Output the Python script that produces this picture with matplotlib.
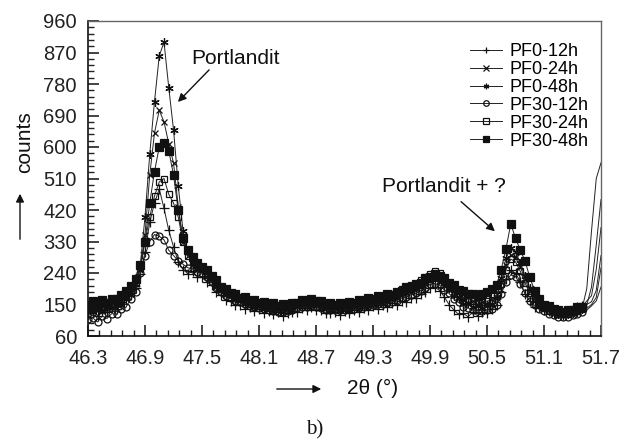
import numpy as np
import matplotlib
matplotlib.use('Agg')
import matplotlib.pyplot as plt
from matplotlib.ticker import FixedLocator

plt.rcParams['font.family'] = 'Liberation Sans'

# 2theta scan grid (0.05 deg step)
two_theta = np.round(np.arange(46.30, 51.7001, 0.05), 2)

pf0_12h = [125, 133, 118, 136, 128, 142, 138, 156, 162, 182,
           198, 236, 300, 385, 440, 480, 425, 362, 315, 272,
           250, 238, 245, 230, 228, 215, 206, 185, 178, 162,
           160, 148, 150, 138, 143, 132, 137, 126, 131, 122,
           128, 118, 126, 130, 128, 140, 133, 143, 135, 134,
           126, 126, 130, 120, 131, 125, 134, 128, 140, 133,
           145, 136, 150, 142, 155, 148, 160, 158, 168, 170,
           180, 185, 196, 200, 190, 172, 150, 135, 122, 125,
           115, 128, 118, 128, 125, 136, 148, 185, 222, 248,
           240, 215, 180, 160, 142, 142, 134, 132, 125, 125,
           120, 130, 128, 142, 145, 160, 175, 250, 370]

pf0_24h = [130, 140, 135, 146, 138, 150, 152, 163, 168, 190,
           210, 250, 350, 520, 640, 705, 672, 610, 555, 430,
           330, 290, 275, 272, 258, 252, 232, 218, 200, 195,
           182, 178, 168, 167, 156, 158, 148, 152, 141, 145,
           135, 142, 136, 146, 145, 155, 150, 160, 148, 152,
           140, 145, 137, 144, 140, 148, 142, 152, 148, 158,
           152, 165, 158, 168, 165, 178, 176, 188, 186, 200,
           200, 216, 218, 228, 214, 212, 192, 188, 168, 167,
           155, 160, 150, 157, 152, 165, 170, 215, 262, 292,
           285, 258, 222, 190, 170, 158, 145, 140, 132, 132,
           126, 130, 130, 138, 140, 150, 158, 190, 290]

pf0_48h = [138, 128, 140, 132, 142, 140, 150, 152, 172, 178,
           208, 262, 400, 580, 730, 860, 900, 770, 650, 490,
           360, 300, 270, 252, 248, 228, 222, 200, 194, 176,
           176, 162, 165, 152, 152, 143, 147, 137, 142, 133,
           136, 129, 137, 135, 146, 142, 152, 145, 150, 139,
           141, 133, 140, 132, 141, 135, 145, 140, 150, 147,
           155, 152, 160, 159, 168, 169, 182, 182, 192, 195,
           208, 212, 226, 225, 222, 202, 196, 175, 170, 152,
           153, 143, 148, 140, 150, 152, 172, 225, 282, 312,
           300, 270, 232, 198, 172, 152, 142, 133, 128, 123,
           122, 122, 126, 129, 136, 139, 150, 170, 255]

pf30_12h = [108, 112, 100, 117, 110, 124, 122, 138, 142, 166,
            185, 240, 290, 330, 350, 345, 335, 305, 290, 275,
            265, 255, 252, 244, 240, 228, 215, 196, 185, 174,
            168, 161, 156, 151, 147, 142, 140, 138, 135, 132,
            130, 130, 131, 134, 139, 142, 144, 146, 143, 139,
            135, 133, 133, 133, 135, 136, 137, 141, 143, 146,
            148, 151, 152, 154, 158, 161, 168, 171, 178, 182,
            190, 196, 208, 210, 206, 192, 182, 166, 156, 144,
            140, 134, 133, 132, 135, 138, 150, 180, 215, 235,
            230, 208, 182, 160, 148, 136, 132, 123, 120, 114,
            115, 114, 120, 122, 130, 134, 146, 160, 200]

pf30_24h = [140, 136, 145, 140, 148, 146, 156, 160, 176, 188,
            212, 255, 330, 400, 460, 500, 510, 465, 440, 400,
            330, 290, 272, 262, 252, 240, 228, 210, 198, 185,
            182, 172, 170, 160, 160, 152, 155, 148, 150, 146,
            145, 143, 146, 150, 155, 156, 162, 160, 158, 154,
            150, 147, 150, 146, 150, 150, 153, 155, 160, 160,
            165, 165, 172, 172, 180, 185, 195, 198, 205, 210,
            220, 228, 238, 245, 240, 225, 210, 196, 182, 170,
            165, 160, 158, 156, 160, 162, 175, 210, 250, 280,
            272, 245, 212, 182, 165, 150, 140, 132, 128, 124,
            122, 124, 128, 132, 138, 195, 360, 510, 555]

pf30_48h = [150, 160, 152, 163, 155, 166, 165, 178, 188, 202,
            222, 262, 330, 440, 530, 600, 612, 590, 520, 420,
            340, 305, 285, 270, 258, 248, 232, 220, 200, 195,
            183, 180, 168, 171, 160, 163, 153, 158, 150, 153,
            146, 151, 146, 155, 155, 163, 160, 167, 160, 160,
            152, 154, 150, 153, 152, 157, 155, 163, 160, 168,
            166, 173, 172, 179, 178, 187, 190, 199, 200, 209,
            212, 225, 230, 238, 232, 225, 212, 205, 192, 188,
            180, 181, 175, 179, 185, 195, 205, 250, 310, 380,
            340, 305, 275, 228, 190, 165, 150, 145, 136, 135,
            130, 135, 134, 143, 142, 148, 200, 320, 450]

labels = ['PF0-12h', 'PF0-24h', 'PF0-48h', 'PF30-12h', 'PF30-24h', 'PF30-48h']
series = [pf0_12h, pf0_24h, pf0_48h, pf30_12h, pf30_24h, pf30_48h]

x_ticks = [46.3, 46.9, 47.5, 48.1, 48.7, 49.3, 49.9, 50.5, 51.1, 51.7]
y_ticks = [60, 150, 240, 330, 420, 510, 600, 690, 780, 870, 960]

styles = [
    dict(marker='+', ms=6.5, mfc='none'),
    dict(marker='x', ms=5, mfc='none'),
    dict(marker=(6, 2, 0), ms=6, mfc='none'),
    dict(marker='o', ms=5, mfc='none'),
    dict(marker='s', ms=5, mfc='none'),
    dict(marker='s', ms=5.5, mfc='#111'),
]

fig = plt.figure(figsize=(6.28, 4.42), dpi=100)
ax = fig.add_axes([88 / 628, 1 - 336 / 442, 513 / 628, 315 / 442])

for y, lab, st in zip(series, labels, styles):
    ax.plot(two_theta, y, color='#222', lw=0.7, mec='#111', mew=0.9,
            markevery=slice(0, 105), label=lab, **st)

ax.set_xlim(46.3, 51.7)
ax.set_ylim(60, 960)
ax.xaxis.set_major_locator(FixedLocator(x_ticks))
ax.yaxis.set_major_locator(FixedLocator(y_ticks))
ax.xaxis.set_minor_locator(FixedLocator(np.arange(46.3, 51.71, 0.12)))
ax.yaxis.set_minor_locator(FixedLocator(np.arange(60, 961, 18)))
ax.set_xticklabels([f'{v:.1f}' for v in x_ticks])
ax.set_yticklabels([str(v) for v in y_ticks])
ax.tick_params(which='both', direction='in', top=False, right=False,
               labelsize=14.5, colors='#222')
ax.tick_params(which='major', length=8, width=1.2)
ax.tick_params(which='minor', length=4, width=1)
ax.tick_params(axis='y', pad=8)
ax.tick_params(axis='x', pad=9)
for s in ['top', 'right']:
    ax.spines[s].set_color('#666')
    ax.spines[s].set_linewidth(1)
for s in ['left', 'bottom']:
    ax.spines[s].set_color('#111')
    ax.spines[s].set_linewidth(1.2)

leg = ax.legend(loc='upper left', bbox_to_anchor=(0.745, 0.93), frameon=False,
                fontsize=13, handlelength=1.75, handletextpad=0.4,
                labelspacing=0.05, borderpad=0, borderaxespad=0, numpoints=1)
for h in leg.legend_handles:
    h.set_markersize(4)

# annotations
ax.text(47.85, 854, 'Portlandit', fontsize=15, ha='center', va='center', color='#111')
ax.annotate('', xy=(47.226, 723), xytext=(47.595, 826),
            arrowprops=dict(arrowstyle='-|>', color='#111', lw=1, mutation_scale=12))
ax.text(50.05, 486, 'Portlandit + ?', fontsize=15, ha='center', va='center', color='#111')
ax.annotate('', xy=(50.605, 354), xytext=(50.205, 449),
            arrowprops=dict(arrowstyle='-|>', color='#111', lw=1, mutation_scale=12))

# axis labels with arrows
fig.text(0.040, 1 - 142 / 442, 'counts', rotation=90, fontsize=15,
         ha='center', va='center', color='#111')
fig.add_artist(matplotlib.patches.FancyArrowPatch(
    (20 / 628, 1 - 242 / 442), (20 / 628, 1 - 191 / 442), transform=fig.transFigure,
    arrowstyle='-|>', mutation_scale=12, color='#111', lw=1))
fig.text(373 / 628, 1 - 388 / 442, '2θ (°)', fontsize=15, ha='center', va='center', color='#111')
fig.add_artist(matplotlib.patches.FancyArrowPatch(
    (274 / 628, 1 - 389 / 442), (324 / 628, 1 - 389 / 442), transform=fig.transFigure,
    arrowstyle='-|>', mutation_scale=12, color='#111', lw=1))
fig.text(315 / 628, 1 - 430 / 442, 'b)', fontsize=15, ha='center', va='center',
         family='Liberation Serif', color='#111')

fig.savefig('out.png', dpi=100)
